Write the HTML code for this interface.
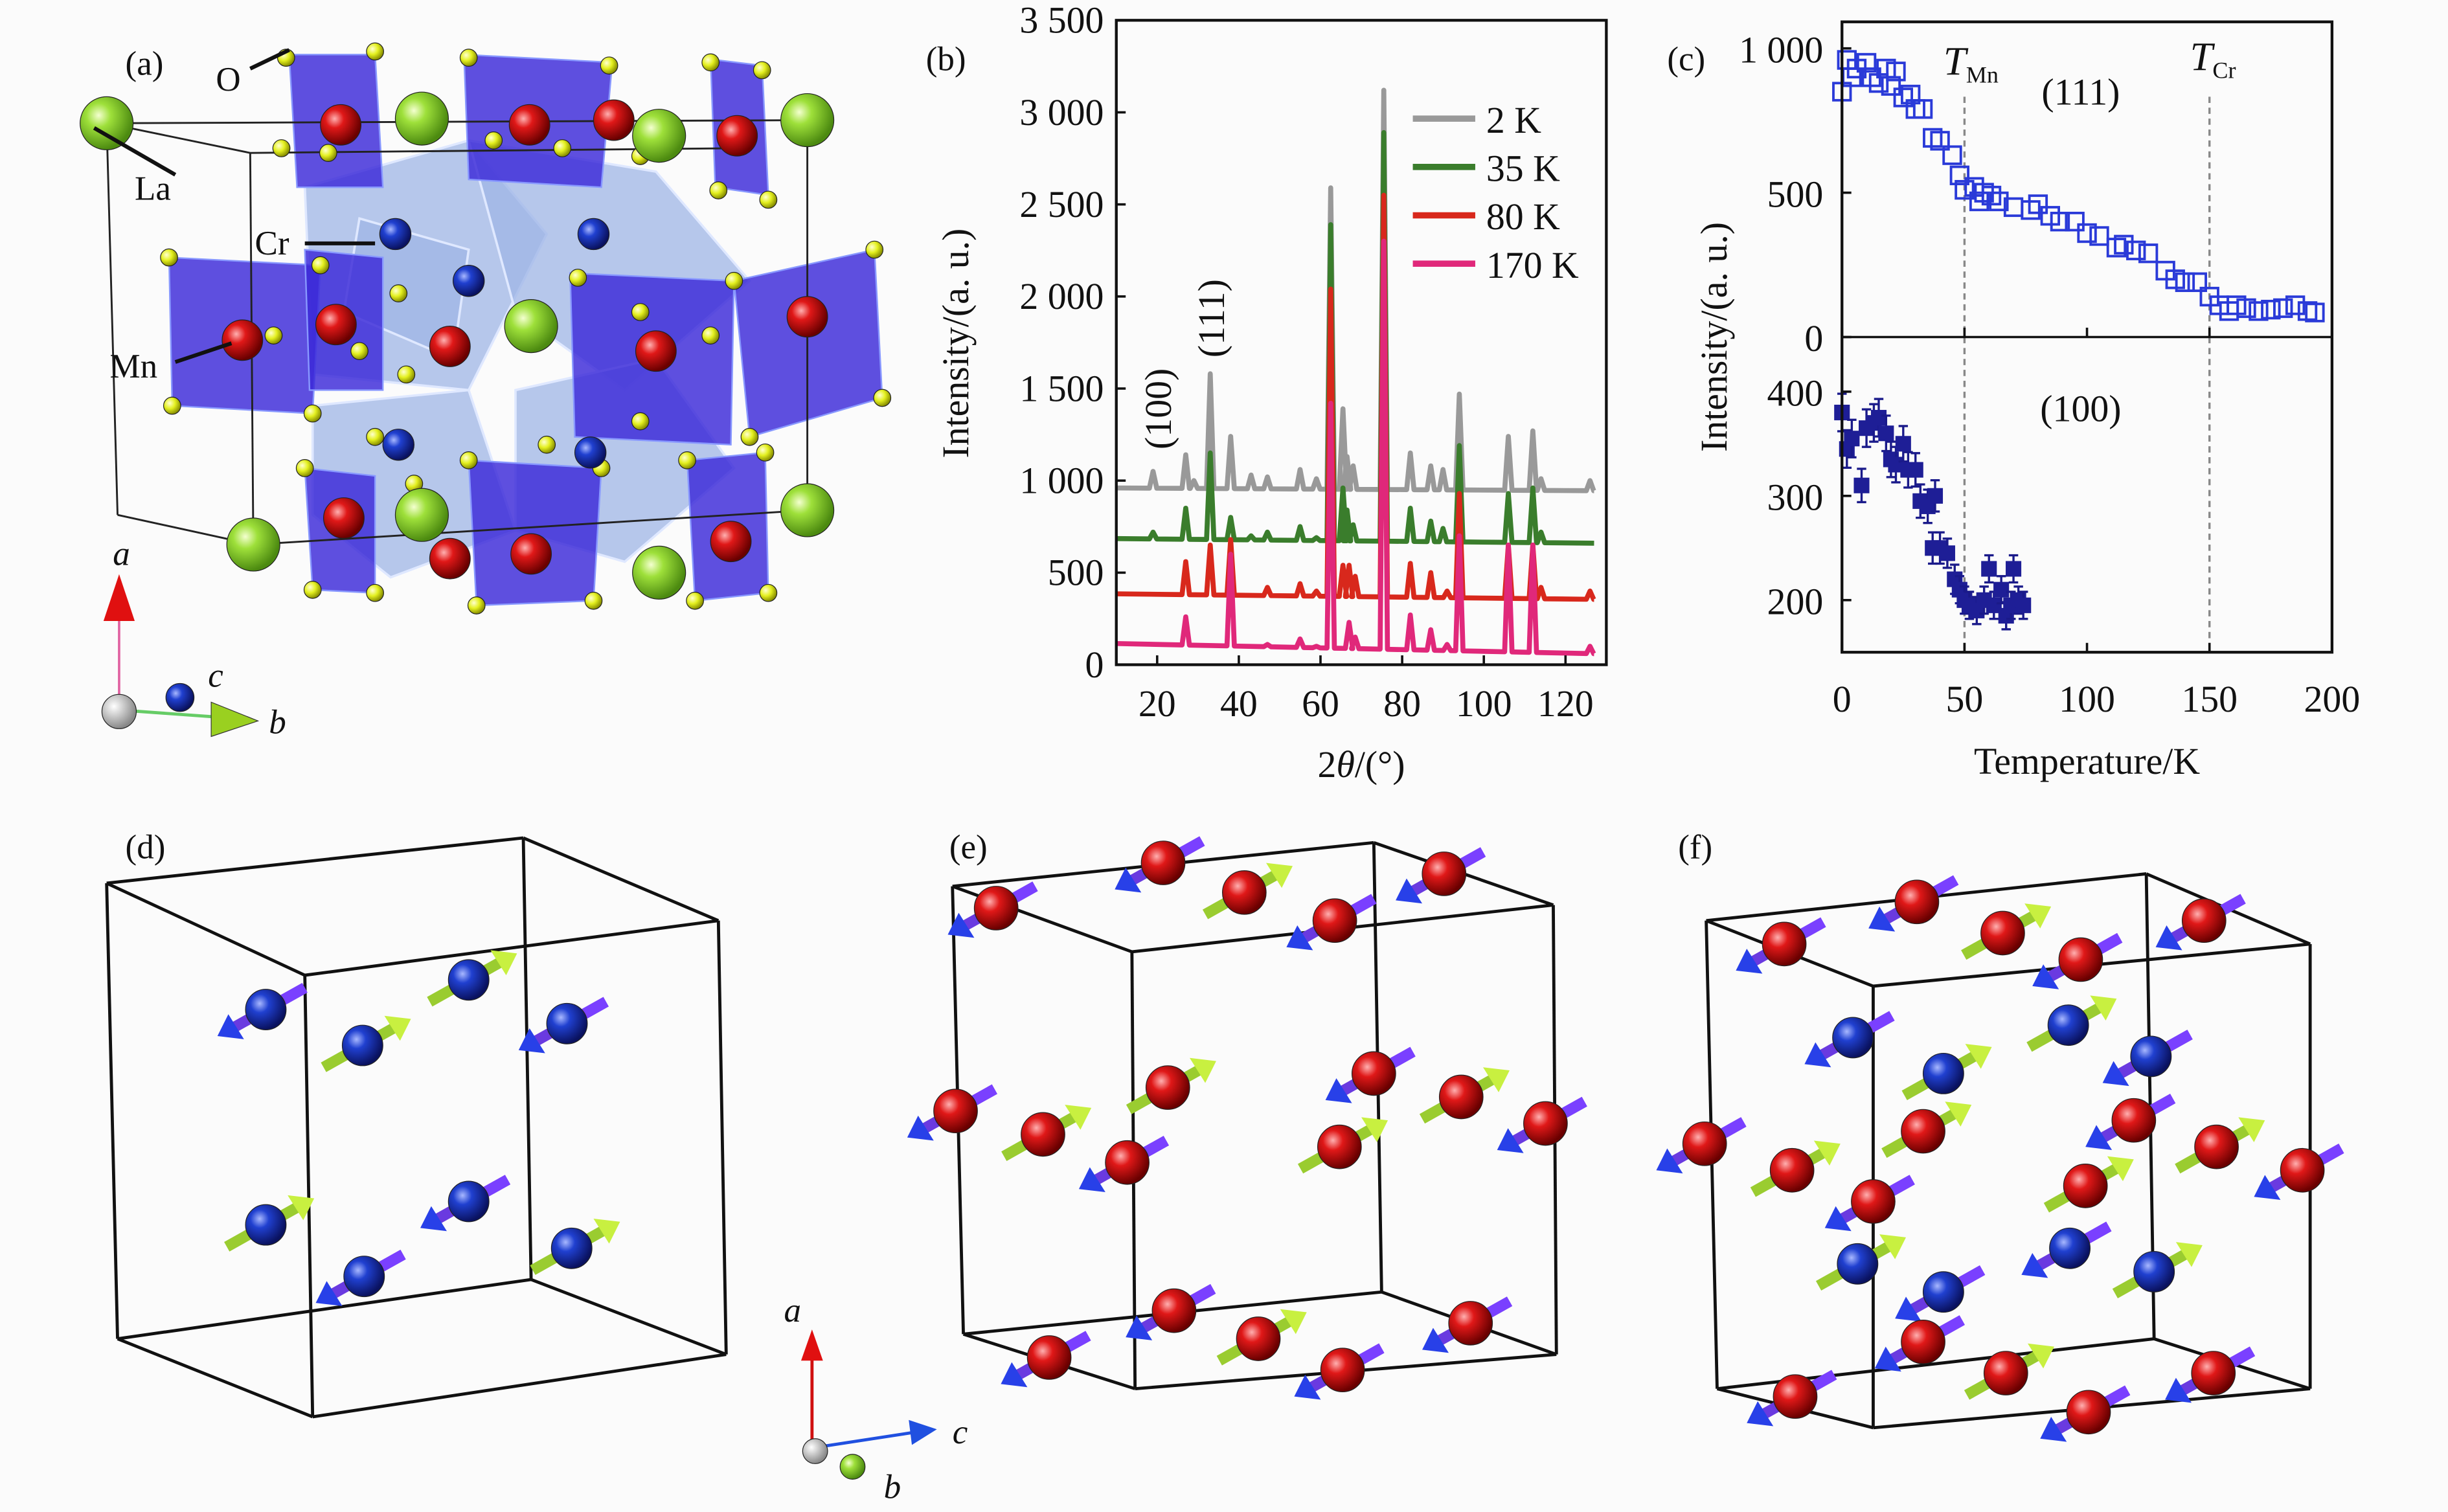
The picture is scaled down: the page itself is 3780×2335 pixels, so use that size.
<!DOCTYPE html>
<html><head><meta charset="utf-8">
<style>
html,body{margin:0;padding:0;background:#fbfbfb;}
svg{display:block;font-family:"Liberation Serif",serif;}
</style></head>
<body>
<svg id="fig" width="3780" height="2335" viewBox="0 0 1568 969" xmlns="http://www.w3.org/2000/svg">
<defs>
<radialGradient id="gGreen" cx="35%" cy="35%" r="65%"><stop offset="0" stop-color="#f4ffd0"/><stop offset="0.35" stop-color="#9ee03a"/><stop offset="1" stop-color="#4c8a10"/></radialGradient>
<radialGradient id="gRed" cx="35%" cy="35%" r="65%"><stop offset="0" stop-color="#ffb0b0"/><stop offset="0.35" stop-color="#e01818"/><stop offset="1" stop-color="#6a0000"/></radialGradient>
<radialGradient id="gBlue" cx="35%" cy="35%" r="65%"><stop offset="0" stop-color="#a8b8ff"/><stop offset="0.35" stop-color="#2040d0"/><stop offset="1" stop-color="#0a1260"/></radialGradient>
<radialGradient id="gYel" cx="35%" cy="35%" r="65%"><stop offset="0" stop-color="#ffffd0"/><stop offset="0.5" stop-color="#e4f020"/><stop offset="1" stop-color="#8a9000"/></radialGradient>
<radialGradient id="gWhite" cx="35%" cy="35%" r="65%"><stop offset="0" stop-color="#ffffff"/><stop offset="1" stop-color="#888"/></radialGradient>
</defs>
<rect width="1568" height="969" fill="#fbfbfb"/>
<g id="panelA"></g>
<g id="panelB"></g>
<g id="panelC"></g>
<g id="panelD"></g>
<g id="panelE"></g>
<g id="panelF"></g>
</svg>
<script>
// ---------- Panel (b) data ----------
const bSeriesNames = ["2 K","35 K","80 K","170 K"];
const bSeriesColors = ["#999999","#3a7d2c","#d8281c","#e0287a"];
const bBaseStart = [960, 685, 385, 115];
const bBaseEnd = [945, 660, 355, 60];
const bPeakPos2K = [19,27,29,33,38,43,47,55,59,62.5,65.5,66.5,68,75.5,82,87,90,94,106,112,114,126];
const bPeakVal2K = [1050,1140,1000,1580,1240,1030,1020,1060,1010,2590,1390,1130,1080,3120,1150,1080,1060,1470,1240,1270,1010,1000];
const bPeakPos35K = [19,27,33,38,43,47,55,59,62.5,65.5,66.5,68,75.5,82,87,90,94,106,112,114];
const bPeakVal35K = [720,850,1150,800,700,720,750,690,2390,960,840,760,2890,850,780,740,1190,930,960,720];
const bPeakPos80K = [27,33,38,47,55,59,62.5,65.5,67,68.5,75.5,82,87,91,94,106,112,114,126];
const bPeakVal80K = [560,650,680,420,440,400,2040,540,540,480,2550,550,500,400,930,650,650,420,400];
const bPeakPos170K = [27,38,47,55,59,62.5,67,68.5,75.5,82,87,91,94,106,112,126];
const bPeakVal170K = [260,600,110,140,100,1420,230,150,2300,270,190,110,700,650,650,100];
const bXTicks = [20,40,60,80,100,120];
const bYTicks = [0,500,1000,1500,2000,2500,3000,3500];
const bYTickLabels = ["0","500","1 000","1 500","2 000","2 500","3 000","3 500"];

// ---------- Panel (c) data ----------
const c111T = [0,2,4,6,10,12,15,18,20,22,25,28,30,33,37,40,45,48,50,54,56,58,61,64,70,77,80,85,89,95,100,105,112,115,120,125,132,136,140,145,150,154,158,161,165,170,175,180,185,190,193];
const c111I = [850,960,900,930,950,900,880,930,870,920,830,840,790,790,690,680,630,560,510,520,470,500,490,470,450,440,460,420,400,400,360,350,310,320,300,290,230,200,190,190,140,110,90,110,100,90,95,100,110,90,85];
const c100T = [0,2,4,8,10,13,15,18,20,22,25,27,30,32,35,38,37,40,43,46,48,50,52,55,58,60,62,65,67,69,70,72,74];
const c100I = [380,345,355,310,365,370,375,360,335,330,350,325,325,295,290,300,250,250,245,220,210,200,195,190,200,230,195,210,185,195,230,200,195];
const c100Err = [18,18,18,16,18,18,18,17,17,17,17,17,16,16,16,15,15,15,14,14,13,13,13,13,13,13,13,13,13,13,13,13,13];
const cXTicks = [0,50,100,150,200];
const cTopTicks = [0,500,1000];
const cTopTickLabels = ["0","500","1 000"];
const cBotTicks = [200,300,400];

const NS="http://www.w3.org/2000/svg";
function mk(tag, attrs, parent){const e=document.createElementNS(NS,tag);for(const k in attrs)e.setAttribute(k,attrs[k]);parent.appendChild(e);return e;}
function txt(parent,x,y,s,size,extra){const t=mk('text',Object.assign({x:x,y:y,'font-size':size,fill:'#111'},extra||{}),parent);t.textContent=s;return t;}

// ===== Panel B =====
(function(){
const g=document.getElementById('panelB');
const L=715,R=1029,T=13,B=426;
const xs=v=>L+(v-10)/120*(R-L);
const ys=v=>B-v/3500*(B-T);
const pos=[bPeakPos2K,bPeakPos35K,bPeakPos80K,bPeakPos170K];
const val=[bPeakVal2K,bPeakVal35K,bPeakVal80K,bPeakVal170K];
for(let s=0;s<4;s++){
  const base=v=>bBaseStart[s]+(bBaseEnd[s]-bBaseStart[s])*(v-10)/117;
  let d='M'+xs(10)+','+ys(base(10));
  const P=pos[s].map((p,i)=>[p,val[s][i]]).sort((a,b)=>a[0]-b[0]);
  for(const [p,v] of P){
    d+=' L'+xs(p-0.9)+','+ys(base(p-0.9))+' L'+xs(p)+','+ys(v)+' L'+xs(p+0.9)+','+ys(base(p+0.9));
  }
  d+=' L'+xs(127)+','+ys(base(127));
  const path=mk('path',{d:d,fill:'none',stroke:bSeriesColors[s],'stroke-width':3.2,'stroke-linejoin':'round'},g);
  
  
  const ly=76+s*31;
  const ll=mk('line',{x1:905,y1:ly,x2:945,y2:ly,stroke:bSeriesColors[s],'stroke-width':4},g);
  
  
  const lt=txt(g,952,ly+9,bSeriesNames[s],24);
  
  
}
const frame=mk('rect',{x:L,y:T,width:R-L,height:B-T,fill:'none',stroke:'#111','stroke-width':1.8},g);


bXTicks.forEach(v=>{
  mk('line',{x1:xs(v),y1:B,x2:xs(v),y2:B-6,stroke:'#111','stroke-width':1.5},g);
  const t=txt(g,xs(v),B+33,String(v),24,{'text-anchor':'middle'});
  
  
});
bYTicks.forEach((v,i)=>{
  mk('line',{x1:L,y1:ys(v),x2:L+6,y2:ys(v),stroke:'#111','stroke-width':1.5},g);
  const t=txt(g,L-8,ys(v)+8,bYTickLabels[i],24,{'text-anchor':'end'});
  
  
});
const xt=txt(g,872,498,'',24,{'text-anchor':'middle'});
xt.innerHTML='2<tspan font-style="italic">θ</tspan>/(°)';


const yt=txt(g,0,0,'Intensity/(a. u.)',24,{'text-anchor':'middle',transform:'translate(620,220) rotate(-90)'});


const a1=txt(g,0,0,'(100)',24,{'text-anchor':'middle',transform:'translate(750,262) rotate(-90)'});


const a2=txt(g,0,0,'(111)',24,{'text-anchor':'middle',transform:'translate(784,204) rotate(-90)'});


const pl=txt(g,593,45,'(b)',22);


})();

// ===== Panel C =====
(function(){
const g=document.getElementById('panelC');
const L=1180,R=1494,T=14,M=216,B=418;
const xs=v=>L+v/200*(R-L);
const yt=v=>M-v/1000*(M-31);
const yb=v=>B-(v-150)/100*66.8;
[50,150].forEach(v=>{
  const l=mk('line',{x1:xs(v),y1:62,x2:xs(v),y2:B,stroke:'#888','stroke-width':1.4,'stroke-dasharray':'4,3'},g);
  
  
});
c111T.forEach((t,i)=>{
  const r=mk('rect',{x:xs(t)-5.5,y:yt(c111I[i])-5.5,width:11,height:11,fill:'none',stroke:'#2a3ad8','stroke-width':1.6},g);
  
  
});
c100T.forEach((t,i)=>{
  const x=xs(t),y=yb(c100I[i]),e=c100Err[i]*0.668;
  mk('line',{x1:x,y1:y-e,x2:x,y2:y+e,stroke:'#1a1a8a','stroke-width':1.4},g);
  mk('line',{x1:x-3,y1:y-e,x2:x+3,y2:y-e,stroke:'#1a1a8a','stroke-width':1.4},g);
  mk('line',{x1:x-3,y1:y+e,x2:x+3,y2:y+e,stroke:'#1a1a8a','stroke-width':1.4},g);
  const r=mk('rect',{x:x-5,y:y-5,width:10,height:10,fill:'#1e1e96'},g);
  
  
});
const f1=mk('rect',{x:L,y:T,width:R-L,height:B-T,fill:'none',stroke:'#111','stroke-width':1.8},g);


mk('line',{x1:L,y1:M,x2:R,y2:M,stroke:'#111','stroke-width':1.5},g);
cXTicks.forEach(v=>{
  mk('line',{x1:xs(v),y1:B,x2:xs(v),y2:B-6,stroke:'#111','stroke-width':1.5},g);
  mk('line',{x1:xs(v),y1:M,x2:xs(v),y2:M-6,stroke:'#111','stroke-width':1.5},g);
  const t=txt(g,xs(v),B+38,String(v),24,{'text-anchor':'middle'});
  
  
});
cTopTicks.forEach((v,i)=>{
  mk('line',{x1:L,y1:yt(v),x2:L+6,y2:yt(v),stroke:'#111','stroke-width':1.5},g);
  const t=txt(g,L-12,yt(v)+9,cTopTickLabels[i],24,{'text-anchor':'end'});
  
  
});
cBotTicks.forEach(v=>{
  mk('line',{x1:L,y1:yb(v),x2:L+6,y2:yb(v),stroke:'#111','stroke-width':1.5},g);
  const t=txt(g,L-12,yb(v)+9,String(v),24,{'text-anchor':'end'});
  
  
});
const xt=txt(g,1337,496,'Temperature/K',24,{'text-anchor':'middle'});


const ytt=txt(g,0,0,'Intensity/(a. u.)',24,{'text-anchor':'middle',transform:'translate(1106,216) rotate(-90)'});


const tm=txt(g,1245,48,'',26);
tm.innerHTML='<tspan font-style="italic">T</tspan><tspan font-size="15" dy="5">Mn</tspan>';


const tc=txt(g,1403,45,'',26);
tc.innerHTML='<tspan font-style="italic">T</tspan><tspan font-size="15" dy="5">Cr</tspan>';


const l1=txt(g,1333,67,'(111)',24,{'text-anchor':'middle'});


const l2=txt(g,1333,270,'(100)',24,{'text-anchor':'middle'});


const pl=txt(g,1068,45,'(c)',22);


})();

function sphere(g,x,y,r,fill){return mk('circle',{cx:x,cy:y,r:r,fill:fill,stroke:'#222','stroke-width':0.5},g);}
function spin(g,x,y,col,dir){
  const dx=25,dy=-14;
  mk('line',{x1:x-dx,y1:y-dy,x2:x+dx,y2:y+dy,stroke:dir>0?'#9acc30':'#6a3ae0','stroke-width':7},g);
  const tipx=dir>0?x+dx+6:x-dx-6, tipy=dir>0?y+dy-3:y-dy+3;
  const bx=dir>0?x+dx-6:x-dx+6, by=dir>0?y+dy+3:y-dy-3;
  mk('polygon',{points:`${tipx},${tipy} ${bx-5},${by-8} ${bx+5},${by+8}`,fill:dir>0?'#c8f040':'#2840e8'},g);
  if(dir<0) mk('line',{x1:x,y1:y,x2:x+dx,y2:y+dy,stroke:'#7a40ff','stroke-width':7},g);
  const s=sphere(g,x,y,col==='r'?14:13,col==='r'?'url(#gRed)':'url(#gBlue)');
  
  
}
function cube(g,pts){
  const [a,b,c,d,e,f,h,i]=pts;
  const edges=[[a,b],[b,c],[c,d],[d,a],[e,f],[f,h],[h,i],[i,e],[a,e],[b,f],[c,h],[d,i]];
  edges.forEach(([p,q])=>mk('line',{x1:p[0],y1:p[1],x2:q[0],y2:q[1],stroke:'#111','stroke-width':2},g));
}

(function(){
const g=document.getElementById('panelD');
cube(g,[[68,566],[335,537],[460,590],[195,625],[75,858],[340,820],[465,868],[200,908]]);
[[170,647,-1],[300,628,1],[363,656,-1],[232,670,1],[170,785,1],[300,770,-1],[366,800,1],[233,818,-1]].forEach(p=>spin(g,p[0],p[1],'b',p[2]));
const pl=txt(g,80,550,'(d)',22);


})();

(function(){
const g=document.getElementById('panelE');
cube(g,[[610,568],[880,540],[995,580],[725,610],[617,855],[885,828],[997,868],[727,890]]);
[[745,553,-1],[925,560,-1],[638,582,-1],[797,572,1],[855,590,-1],[612,712,-1],[668,727,1],[748,697,1],[880,688,-1],[936,703,1],[990,720,-1],[722,745,-1],[858,735,1],[752,840,-1],[942,848,-1],[672,870,-1],[806,858,1],[860,878,-1]].forEach(p=>spin(g,p[0],p[1],'r',p[2]));
const pl=txt(g,608,550,'(e)',22);


mk('line',{x1:520,y1:928,x2:520,y2:868,stroke:'#d01010','stroke-width':2},g);
mk('polygon',{points:'520,852 513,872 527,872',fill:'#e01010'},g);
mk('line',{x1:520,y1:928,x2:585,y2:918,stroke:'#2050e0','stroke-width':2},g);
mk('polygon',{points:'600,916 582,910 584,926',fill:'#2050e0'},g);
sphere(g,546,940,8,'url(#gGreen)');
sphere(g,522,930,8,'url(#gWhite)');
const ta=txt(g,513,847,'a',22,{'font-style':'italic','text-anchor':'end'});


const tcc=txt(g,610,925,'c',22,{'font-style':'italic'});


const tb=txt(g,566,960,'b',22,{'font-style':'italic'});


})();

(function(){
const g=document.getElementById('panelF');
cube(g,[[1093,590],[1375,560],[1480,605],[1200,632],[1100,890],[1380,858],[1480,890],[1200,915]]);
[[1187,665,-1],[1325,657,1],[1378,677,-1],[1245,688,1],[1190,810,1],[1326,800,-1],[1380,815,1],[1245,828,-1]].forEach(p=>spin(g,p[0],p[1],'b',p[2]));
[[1228,578,-1],[1412,590,-1],[1143,605,-1],[1283,598,1],[1333,615,-1],[1092,733,-1],[1148,750,1],[1232,725,1],[1367,718,-1],[1420,735,1],[1475,750,-1],[1200,770,-1],[1336,760,1],[1232,860,-1],[1418,880,-1],[1150,895,-1],[1285,880,1],[1338,905,-1]].forEach(p=>spin(g,p[0],p[1],'r',p[2]));
const pl=txt(g,1075,550,'(f)',22);


})();

(function(){
const g=document.getElementById('panelA');
const light=[[195,120,300,90,350,150,300,250,200,240],[300,90,420,110,480,180,400,250,330,200],[200,260,300,250,330,340,250,370,200,330],[330,250,420,230,470,300,400,360,330,340],[230,140,300,160,290,230,220,200]];
light.forEach(p=>{const pg=mk('polygon',{points:p.join(','),fill:'#9fb6e6','fill-opacity':0.75,stroke:'#dfe8ff','stroke-width':1.5},g);

});
const oct=[[185,35,240,35,245,120,190,120],[297,35,392,40,385,120,300,115],[455,38,488,42,492,125,458,120],[108,165,205,170,200,265,110,260],[365,175,470,180,468,285,368,280],[470,180,560,160,565,255,480,280],[195,160,245,165,245,250,198,250],[440,295,490,290,492,380,445,385],[300,295,385,300,380,385,305,388],[195,300,240,305,240,380,200,378]];
oct.forEach(p=>{const pg=mk('polygon',{points:p.join(','),fill:'#3a28d8','fill-opacity':0.82,stroke:'#8898ff','stroke-width':1},g);

});
[[68,79,517,77],[68,79,75,330],[517,77,517,327],[162,349,517,327],[75,330,162,349],[160,98,162,349],[68,79,160,98],[160,98,470,95]].forEach(l=>mk('line',{x1:l[0],y1:l[1],x2:l[2],y2:l[3],stroke:'#222','stroke-width':1.2},g));
[[183,37],[240,33],[210,98],[300,37],[390,42],[455,40],[488,45],[460,122],[492,128],[180,95],[316,90],[360,95],[410,100],[108,165],[205,170],[110,260],[200,265],[255,188],[240,280],[300,180],[330,212],[370,178],[470,180],[560,160],[565,255],[480,280],[455,215],[410,270],[300,295],[385,300],[305,388],[380,385],[195,300],[240,380],[200,378],[440,295],[490,290],[445,385],[492,380],[350,285],[260,240],[175,215],[230,225],[265,310],[410,200]].forEach(p=>{const s=sphere(g,p[0],p[1],5.5,'url(#gYel)');});
[[218,80],[339,80],[393,77],[472,87],[155,218],[215,208],[288,222],[420,225],[517,203],[220,332],[288,358],[468,347],[340,355]].forEach(p=>{const s=sphere(g,p[0],p[1],13,'url(#gRed)');});
[[253,150],[380,150],[255,285],[378,290],[300,180]].forEach(p=>sphere(g,p[0],p[1],10,'url(#gBlue)'));
[[68,79],[270,76],[422,87],[517,77],[340,209],[162,349],[422,367],[517,327],[270,330]].forEach(p=>{const s=sphere(g,p[0],p[1],17,'url(#gGreen)');});
[[160,44,185,32],[112,112,60,82],[195,156,240,156],[112,232,148,220]].forEach(l=>mk('line',{x1:l[0],y1:l[1],x2:l[2],y2:l[3],stroke:'#111','stroke-width':2.5},g));
[['O',138,58],['La',86,128],['Cr',163,163],['Mn',70,242]].forEach(a=>{const t=txt(g,a[1],a[2],a[0],22);});
const pl=txt(g,80,48,'(a)',22);


mk('line',{x1:76,y1:455,x2:76,y2:395,stroke:'#e060a0','stroke-width':1.5},g);
mk('polygon',{points:'76,368 66,398 86,398',fill:'#e01010'},g);
mk('line',{x1:76,y1:455,x2:145,y2:460,stroke:'#6c6','stroke-width':2},g);
mk('polygon',{points:'165,462 135,450 135,472',fill:'#9ad020',stroke:'#333','stroke-width':0.5},g);
sphere(g,115,447,9,'url(#gBlue)');
sphere(g,76,456,11,'url(#gWhite)');
const ta=txt(g,72,362,'a',22,{'font-style':'italic'});


const tc=txt(g,133,440,'c',22,{'font-style':'italic'});


const tb=txt(g,172,470,'b',22,{'font-style':'italic'});


})();
</script>
</body></html>
